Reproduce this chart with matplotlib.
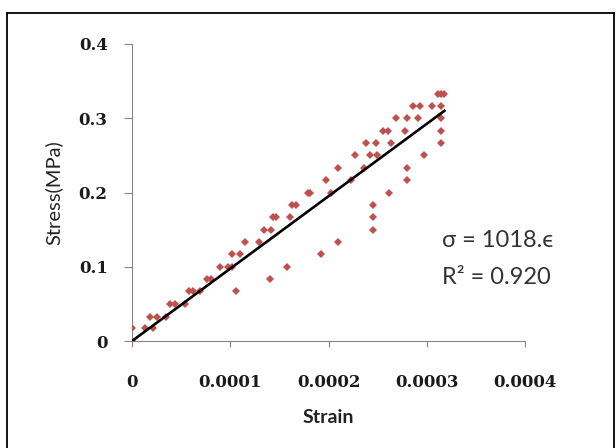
"""
Stress-strain scatter with a linear trendline through the origin
"""

import numpy
import matplotlib
matplotlib.use('Agg')
import matplotlib.pyplot as plt
from matplotlib.lines import Line2D

# strain readings (x 1e-4) and stress readings (MPa)
strain_e4 = [0.000, 0.000, 0.128, 0.179, 0.213, 0.257, 0.349, 0.383, 0.434, 0.535,
             0.579, 0.620, 0.688, 0.765, 0.800, 0.892, 0.976, 1.020, 1.020, 1.055,
             1.095, 1.146, 1.290, 1.343, 1.400, 1.418, 1.434, 1.470, 1.580, 1.604,
             1.630, 1.670, 1.790, 1.810, 1.920, 1.977, 2.030, 2.096, 2.100, 2.232,
             2.266, 2.357, 2.385, 2.418, 2.450, 2.450, 2.450, 2.487, 2.490, 2.554,
             2.605, 2.620, 2.640, 2.690, 2.775, 2.800, 2.800, 2.800, 2.860, 2.910,
             2.930, 2.970, 3.050, 3.115, 3.148, 3.180, 3.148, 3.148, 3.148, 3.148]
stress = [0.000, 0.017, 0.017, 0.033, 0.017, 0.033, 0.033, 0.050, 0.050, 0.050,
          0.067, 0.067, 0.067, 0.083, 0.083, 0.100, 0.100, 0.100, 0.117, 0.067,
          0.117, 0.133, 0.133, 0.150, 0.083, 0.150, 0.167, 0.167, 0.100, 0.167,
          0.183, 0.183, 0.200, 0.200, 0.117, 0.217, 0.200, 0.233, 0.133, 0.217,
          0.250, 0.233, 0.267, 0.250, 0.183, 0.167, 0.150, 0.267, 0.250, 0.283,
          0.283, 0.200, 0.267, 0.300, 0.283, 0.300, 0.233, 0.217, 0.317, 0.300,
          0.317, 0.250, 0.317, 0.333, 0.333, 0.333, 0.317, 0.300, 0.283, 0.267]

x_ticks = [0, 0.0001, 0.0002, 0.0003, 0.0004]
x_tick_labels = ['0', '0.0001', '0.0002', '0.0003', '0.0004']
y_ticks = [0, 0.1, 0.2, 0.3, 0.4]
y_tick_labels = ['0', '0.1', '0.2', '0.3', '0.4']
fit_label = 'σ = 1018.ϵ'
r2_label = 'R² = 0.920'

strain = numpy.array(strain_e4) * 1e-4
stress = numpy.array(stress)

# least squares slope, intercept forced to zero
slope = numpy.sum(strain * stress) / numpy.sum(strain * strain)
fit_x = numpy.array([0, strain.max()])

fig = plt.figure(figsize=(6.16, 4.48), dpi=100)
ax = fig.add_axes([0.2143, 0.2388, 0.638, 0.663])

ax.plot(strain, stress, linestyle='none', marker='D', markersize=4.2,
        color='#c0504d', markeredgewidth=0)
ax.plot(fit_x, slope * fit_x, color='black', linewidth=1.9)

ax.set_xlim(0, 0.0004)
ax.set_ylim(0, 0.4)
ax.set_xticks(x_ticks)
ax.set_xticklabels(x_tick_labels)
ax.set_yticks(y_ticks)
ax.set_yticklabels(y_tick_labels)

for side in ('top', 'right'):
    ax.spines[side].set_visible(False)
for side in ('left', 'bottom'):
    ax.spines[side].set_color('#868686')
    ax.spines[side].set_linewidth(0.8)
ax.spines['left'].set_zorder(0)
ax.spines['bottom'].set_zorder(0)

ax.tick_params(axis='x', direction='out', length=4.5, width=0.8, color='#868686', pad=19)
ax.tick_params(axis='y', direction='out', length=5.5, width=0.8, color='#868686', pad=12)
for lbl in ax.get_xticklabels() + ax.get_yticklabels():
    lbl.set_fontfamily('DejaVu Serif')
    lbl.set_fontsize(12)
    lbl.set_fontweight('bold')
    lbl.set_color('#1a1a1a')

ax.set_xlabel('Strain', family='Lato', fontsize=14, fontweight='bold', color='#222222')
ax.set_ylabel('Stress(MPa)', family='Lato', fontsize=14.5, color='#222222')
ax.xaxis.set_label_coords(0.5, -0.229)
ax.yaxis.set_label_coords(-0.176, 0.5)

fig.text(442 / 616, 1 - 240 / 448, fit_label, family=['Lato', 'DejaVu Sans'],
         fontsize=17, color='#333333', ha='left', va='center')
fig.text(442 / 616, 1 - 277 / 448, r2_label, family=['Lato', 'DejaVu Sans'],
         fontsize=17, color='#333333', ha='left', va='center')

# frame around the picture
fig.add_artist(Line2D([6.5 / 616, 6.5 / 616], [0, 1 - 13.5 / 448],
                      transform=fig.transFigure, color='black', linewidth=1.3))
fig.add_artist(Line2D([6.5 / 616, 614 / 616], [1 - 13.5 / 448, 1 - 13.5 / 448],
                      transform=fig.transFigure, color='black', linewidth=1.3))
fig.add_artist(Line2D([614 / 616, 614 / 616], [0, 1 - 13.5 / 448],
                      transform=fig.transFigure, color='black', linewidth=1.3))

fig.savefig('out.png', dpi=100)
